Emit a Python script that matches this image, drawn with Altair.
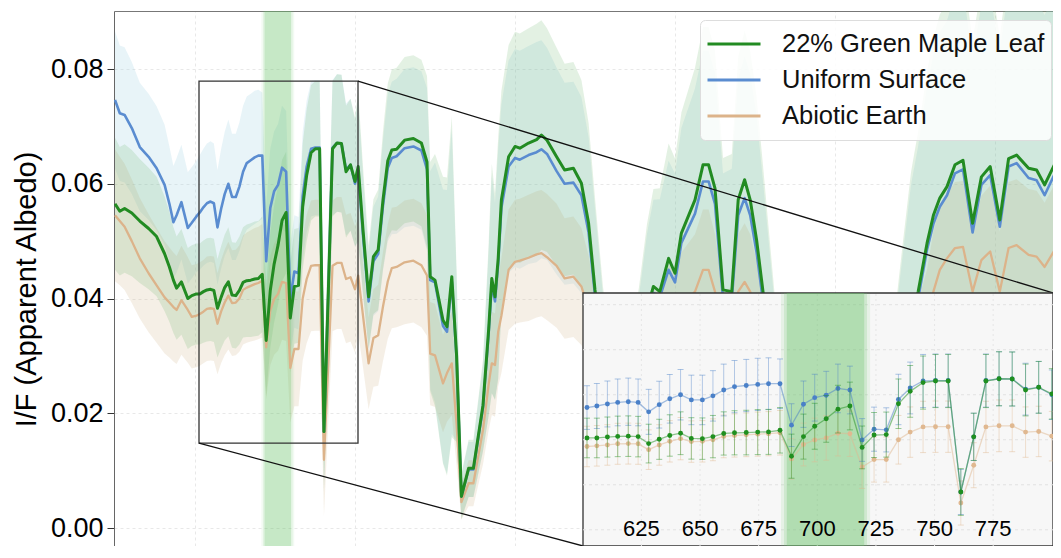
import altair as alt
import pandas as pd

# ---------------- data ----------------
wavelength = [
    500, 506, 512, 521, 531, 542, 552, 562, 568, 573, 577, 583, 591, 596,
    601.8, 606.0, 610.5, 614.9, 619.4, 623.6, 628.1, 632.6, 637.1, 641.7, 646.3, 651.0, 655.5, 660.1,
    664.7, 669.7, 674.6, 679.2, 684.1, 689.0, 694.1, 698.9, 703.8, 708.8, 713.9, 719.1, 724.2, 729.4,
    734.6, 739.6, 745.1, 750.4, 755.8, 761.2, 766.7, 771.9, 777.5, 783.1, 788.8, 794.4, 800.0,
    804, 810, 817, 823, 829, 835, 841, 846, 852, 862,
    873, 883, 890, 894, 900, 910, 915, 921, 927, 933,
    942, 948, 960, 967, 971, 975, 979, 983, 992, 1000,
    1006, 1017, 1027, 1033, 1040, 1052, 1062, 1073, 1083, 1092,
    1100, 1110, 1125, 1140, 1155, 1165, 1173, 1181, 1192, 1200,
    1208, 1225, 1235, 1242, 1250, 1260, 1271, 1279, 1287, 1294,
    1302, 1310, 1325, 1350, 1380, 1410, 1440, 1465, 1485, 1495,
    1504, 1515, 1523, 1531, 1540, 1550, 1560, 1572, 1583, 1594,
    1606, 1617, 1627, 1642, 1652, 1662, 1676, 1682,
]

green_maple = [
    0.0565, 0.0552, 0.0557, 0.0549, 0.0535, 0.0522, 0.0508, 0.0478, 0.0455, 0.0432, 0.0418, 0.0429, 0.0400, 0.0405,
    0.0408, 0.0408, 0.0412, 0.0415, 0.0416, 0.0414, 0.0383, 0.0402, 0.0419, 0.0429, 0.0406, 0.0405, 0.0414, 0.0428,
    0.0431, 0.0432, 0.0434, 0.0435, 0.0442, 0.0327, 0.0414, 0.0460, 0.0493, 0.0536, 0.0550, 0.0366, 0.0421, 0.0423,
    0.0560, 0.0615, 0.0654, 0.0661, 0.0661, 0.0168, 0.0413, 0.0661, 0.0671, 0.0670, 0.0621, 0.0633, 0.0604,
    0.0630, 0.0520, 0.0403, 0.0473, 0.0485, 0.0572, 0.0640, 0.0659, 0.0660, 0.0676,
    0.0679, 0.0671, 0.0638, 0.0438, 0.0432, 0.0362, 0.0351, 0.0438, 0.0300, 0.0055,
    0.0104, 0.0104, 0.0214, 0.0345, 0.0435, 0.0403, 0.0470, 0.0572, 0.0647, 0.0665,
    0.0662, 0.0671, 0.0677, 0.0685, 0.0676, 0.0647, 0.0624, 0.0627, 0.0601, 0.0531,
    0.0415, 0.0300, 0.0180, 0.0200, 0.0300, 0.0380, 0.0421, 0.0412, 0.0470, 0.0444,
    0.0514, 0.0572, 0.0633, 0.0633, 0.0592, 0.0415, 0.0412, 0.0572, 0.0607, 0.0572,
    0.0502, 0.0412, 0.0250, 0.0080, 0.0020, 0.0010, 0.0040, 0.0150, 0.0300, 0.0370,
    0.0412, 0.0496, 0.0545, 0.0575, 0.0595, 0.0633, 0.0641, 0.0531, 0.0612, 0.0630,
    0.0537, 0.0644, 0.0650, 0.0627, 0.0624, 0.0598, 0.0638, 0.0630,
]

uniform_surface = [
    0.0746, 0.0723, 0.0720, 0.0697, 0.0664, 0.0647, 0.0627, 0.0598, 0.0565, 0.0533, 0.0545, 0.0568, 0.0523, 0.0532,
    0.0543, 0.0550, 0.0559, 0.0566, 0.0569, 0.0566, 0.0524, 0.0556, 0.0582, 0.0600, 0.0577, 0.0577, 0.0595, 0.0621,
    0.0636, 0.0641, 0.0646, 0.0649, 0.0649, 0.0465, 0.0558, 0.0587, 0.0598, 0.0628, 0.0621, 0.0399, 0.0447, 0.0444,
    0.0579, 0.0630, 0.0661, 0.0663, 0.0663, 0.0168, 0.0413, 0.0663, 0.0671, 0.0670, 0.0625, 0.0633, 0.0600,
    0.0622, 0.0510, 0.0395, 0.0465, 0.0478, 0.0562, 0.0628, 0.0645, 0.0648, 0.0662,
    0.0665, 0.0658, 0.0625, 0.0432, 0.0428, 0.0352, 0.0342, 0.0430, 0.0295, 0.0055,
    0.0102, 0.0102, 0.0210, 0.0338, 0.0425, 0.0395, 0.0460, 0.0558, 0.0630, 0.0645,
    0.0642, 0.0650, 0.0655, 0.0660, 0.0652, 0.0622, 0.0600, 0.0602, 0.0580, 0.0515,
    0.0405, 0.0290, 0.0175, 0.0195, 0.0290, 0.0370, 0.0410, 0.0402, 0.0450, 0.0428,
    0.0497, 0.0548, 0.0604, 0.0604, 0.0565, 0.0400, 0.0398, 0.0545, 0.0575, 0.0545,
    0.0480, 0.0395, 0.0240, 0.0078, 0.0020, 0.0010, 0.0040, 0.0145, 0.0290, 0.0360,
    0.0400, 0.0485, 0.0530, 0.0560, 0.0580, 0.0618, 0.0625, 0.0515, 0.0598, 0.0615,
    0.0525, 0.0630, 0.0636, 0.0610, 0.0606, 0.0580, 0.0621, 0.0615,
]

abiotic_earth = [
    0.0545, 0.0535, 0.0525, 0.0500, 0.0470, 0.0444, 0.0423, 0.0402, 0.0393, 0.0385, 0.0380, 0.0397, 0.0380, 0.0368,
    0.0370, 0.0373, 0.0377, 0.0382, 0.0383, 0.0382, 0.0356, 0.0377, 0.0393, 0.0405, 0.0392, 0.0393, 0.0400, 0.0415,
    0.0419, 0.0422, 0.0425, 0.0427, 0.0431, 0.0315, 0.0379, 0.0399, 0.0408, 0.0429, 0.0427, 0.0279, 0.0312, 0.0312,
    0.0400, 0.0434, 0.0457, 0.0458, 0.0458, 0.0119, 0.0287, 0.0457, 0.0462, 0.0462, 0.0434, 0.0437, 0.0416,
    0.0440, 0.0370, 0.0287, 0.0331, 0.0336, 0.0386, 0.0430, 0.0453, 0.0455, 0.0463,
    0.0466, 0.0458, 0.0440, 0.0304, 0.0301, 0.0252, 0.0270, 0.0287, 0.0180, 0.0045,
    0.0078, 0.0078, 0.0171, 0.0250, 0.0287, 0.0284, 0.0342, 0.0370, 0.0450, 0.0464,
    0.0466, 0.0471, 0.0477, 0.0479, 0.0472, 0.0457, 0.0435, 0.0438, 0.0421, 0.0380,
    0.0320, 0.0230, 0.0140, 0.0160, 0.0240, 0.0300, 0.0330, 0.0325, 0.0370, 0.0355,
    0.0385, 0.0412, 0.0450, 0.0450, 0.0412, 0.0320, 0.0330, 0.0412, 0.0429, 0.0412,
    0.0370, 0.0310, 0.0190, 0.0060, 0.0015, 0.0008, 0.0030, 0.0110, 0.0220, 0.0280,
    0.0300, 0.0350, 0.0412, 0.0450, 0.0470, 0.0488, 0.0490, 0.0412, 0.0467, 0.0482,
    0.0412, 0.0488, 0.0493, 0.0476, 0.0473, 0.0455, 0.0488, 0.0482,
]

green_maple_err = [
    0.0115, 0.0112, 0.0112, 0.0110, 0.0108, 0.0106, 0.0104, 0.0100, 0.0096, 0.0092, 0.0090, 0.0092, 0.0088, 0.0088,
    0.0088, 0.0088, 0.0089, 0.0090, 0.0090, 0.0090, 0.0086, 0.0089, 0.0092, 0.0095, 0.0092, 0.0092, 0.0094, 0.0096,
    0.0098, 0.0099, 0.0100, 0.0100, 0.0101, 0.0098, 0.0100, 0.0102, 0.0104, 0.0106, 0.0106, 0.0095, 0.0100, 0.0100,
    0.0110, 0.0115, 0.0118, 0.0118, 0.0118, 0.0104, 0.0105, 0.0118, 0.0120, 0.0120, 0.0115, 0.0115, 0.0112,
    0.0130, 0.0110, 0.0090, 0.0100, 0.0105, 0.0120, 0.0135, 0.0140, 0.0142, 0.0145,
    0.0145, 0.0145, 0.0150, 0.0200, 0.0220, 0.0250, 0.0260, 0.0280, 0.0150, 0.0040,
    0.0050, 0.0050, 0.0080, 0.0150, 0.0200, 0.0180, 0.0210, 0.0190, 0.0195, 0.0200,
    0.0200, 0.0200, 0.0202, 0.0200, 0.0195, 0.0190, 0.0185, 0.0185, 0.0180, 0.0175,
    0.0160, 0.0120, 0.0080, 0.0090, 0.0120, 0.0150, 0.0170, 0.0180, 0.0200, 0.0200,
    0.0210, 0.0230, 0.0240, 0.0240, 0.0240, 0.0230, 0.0240, 0.0250, 0.0260, 0.0260,
    0.0250, 0.0220, 0.0150, 0.0050, 0.0015, 0.0010, 0.0030, 0.0100, 0.0200, 0.0250,
    0.0280, 0.0300, 0.0310, 0.0320, 0.0320, 0.0330, 0.0330, 0.0320, 0.0330, 0.0330,
    0.0320, 0.0330, 0.0330, 0.0330, 0.0330, 0.0330, 0.0330, 0.0330,
]

uniform_surface_err = [
    0.0120, 0.0118, 0.0118, 0.0115, 0.0112, 0.0110, 0.0108, 0.0105, 0.0100, 0.0098, 0.0100, 0.0100, 0.0097, 0.0097,
    0.0097, 0.0100, 0.0102, 0.0104, 0.0105, 0.0104, 0.0100, 0.0104, 0.0108, 0.0112, 0.0110, 0.0110, 0.0112, 0.0115,
    0.0116, 0.0116, 0.0116, 0.0115, 0.0110, 0.0095, 0.0103, 0.0104, 0.0106, 0.0108, 0.0106, 0.0095, 0.0098, 0.0098,
    0.0112, 0.0115, 0.0118, 0.0118, 0.0118, 0.0100, 0.0105, 0.0118, 0.0120, 0.0120, 0.0115, 0.0115, 0.0110,
    0.0125, 0.0105, 0.0086, 0.0095, 0.0100, 0.0114, 0.0128, 0.0133, 0.0135, 0.0138,
    0.0138, 0.0138, 0.0142, 0.0190, 0.0209, 0.0238, 0.0247, 0.0266, 0.0143, 0.0038,
    0.0048, 0.0048, 0.0076, 0.0143, 0.0190, 0.0171, 0.0200, 0.0180, 0.0185, 0.0190,
    0.0190, 0.0190, 0.0192, 0.0190, 0.0185, 0.0180, 0.0176, 0.0176, 0.0171, 0.0166,
    0.0152, 0.0114, 0.0076, 0.0086, 0.0114, 0.0143, 0.0162, 0.0171, 0.0190, 0.0190,
    0.0200, 0.0218, 0.0228, 0.0228, 0.0228, 0.0218, 0.0228, 0.0238, 0.0247, 0.0247,
    0.0238, 0.0209, 0.0143, 0.0048, 0.0014, 0.0010, 0.0029, 0.0095, 0.0190, 0.0238,
    0.0266, 0.0285, 0.0295, 0.0304, 0.0304, 0.0314, 0.0314, 0.0304, 0.0314, 0.0314,
    0.0304, 0.0314, 0.0314, 0.0314, 0.0314, 0.0314, 0.0314, 0.0314,
]

abiotic_earth_err = [
    0.0115, 0.0112, 0.0110, 0.0108, 0.0105, 0.0103, 0.0100, 0.0098, 0.0096, 0.0095, 0.0094, 0.0095, 0.0092, 0.0090,
    0.0090, 0.0090, 0.0090, 0.0091, 0.0091, 0.0091, 0.0088, 0.0090, 0.0092, 0.0094, 0.0092, 0.0092, 0.0093, 0.0095,
    0.0096, 0.0097, 0.0098, 0.0098, 0.0099, 0.0090, 0.0095, 0.0097, 0.0099, 0.0101, 0.0101, 0.0095, 0.0100, 0.0100,
    0.0108, 0.0112, 0.0114, 0.0114, 0.0114, 0.0098, 0.0100, 0.0114, 0.0115, 0.0115, 0.0112, 0.0112, 0.0110,
    0.0100, 0.0090, 0.0080, 0.0085, 0.0088, 0.0095, 0.0100, 0.0105, 0.0105, 0.0108,
    0.0108, 0.0108, 0.0105, 0.0090, 0.0090, 0.0085, 0.0085, 0.0090, 0.0070, 0.0030,
    0.0040, 0.0040, 0.0060, 0.0080, 0.0090, 0.0090, 0.0095, 0.0100, 0.0105, 0.0108,
    0.0108, 0.0110, 0.0110, 0.0110, 0.0110, 0.0108, 0.0105, 0.0105, 0.0102, 0.0095,
    0.0085, 0.0070, 0.0050, 0.0055, 0.0070, 0.0080, 0.0085, 0.0085, 0.0090, 0.0090,
    0.0095, 0.0100, 0.0105, 0.0105, 0.0100, 0.0090, 0.0090, 0.0100, 0.0102, 0.0100,
    0.0095, 0.0085, 0.0060, 0.0025, 0.0010, 0.0008, 0.0020, 0.0050, 0.0080, 0.0090,
    0.0095, 0.0100, 0.0105, 0.0110, 0.0112, 0.0115, 0.0115, 0.0105, 0.0112, 0.0115,
    0.0105, 0.0115, 0.0115, 0.0115, 0.0115, 0.0112, 0.0115, 0.0115,
]

series_names = ["22% Green Maple Leaf", "Uniform Surface", "Abiotic Earth"]
y_ticks = [0.00, 0.02, 0.04, 0.06, 0.08]
x_grid = [600, 800, 1000, 1200, 1400, 1600]
inset_ticks = [625, 650, 675, 700, 725, 750, 775]
inset_grid_y = [0.00, 0.02, 0.04, 0.06, 0.08, 0.10]
highlight_band = [687, 720]           # nm, green shaded wavelength band
zoom_box_x = [605, 803.75]            # nm
zoom_box_y = [0.0148, 0.0779]         # I/F

for arr in (green_maple, uniform_surface, abiotic_earth,
            green_maple_err, uniform_surface_err, abiotic_earth_err):
    assert len(arr) == len(wavelength), len(arr)

# ---------------- layout / styles ----------------
FONT = "Liberation Sans"
W, H = 939, 535
X_DOM = [498.75, 1672.5]
Y_DOM = [-0.003137, 0.09011]
INSET_MAIN_X = [1085, 1672.5]          # where the inset sits, in main-chart units
INSET_MAIN_Y = [-0.003137, 0.04096]
INSET_X_DOM = [600.1, 800.5]
INSET_Y_DOM = [-0.0072, 0.1052]

LINE_COLORS = ["#228b22", "#5a8cd0", "#dcb38a"]
BAND_FILLS = {"22% Green Maple Leaf": ("#5aad5a", 0.17),
              "Uniform Surface": ("#add8e6", 0.28),
              "Abiotic Earth": ("#d2b48c", 0.22)}
LINE_WIDTH = {"22% Green Maple Leaf": 3.0, "Uniform Surface": 2.6, "Abiotic Earth": 2.3}
INSET_COLORS = {"22% Green Maple Leaf": "#1f8f1f",
                "Uniform Surface": "#4a80c8",
                "Abiotic Earth": "#e0b890"}


def px_x(v):
    return (v - X_DOM[0]) / (X_DOM[1] - X_DOM[0]) * W


def px_y(v):
    return (Y_DOM[1] - v) / (Y_DOM[1] - Y_DOM[0]) * H


rows = []
for name, vals, errs in zip(series_names,
                            [green_maple, uniform_surface, abiotic_earth],
                            [green_maple_err, uniform_surface_err, abiotic_earth_err]):
    for w, v, e in zip(wavelength, vals, errs):
        rows.append({"wl": w, "series": name, "value": v, "lo": v - e, "hi": v + e})
df = pd.DataFrame(rows)

# ---------------- main panel ----------------
xs = alt.Scale(domain=X_DOM, nice=False, zero=False)
ys = alt.Scale(domain=Y_DOM, nice=False, zero=False)
x_axis = alt.Axis(orient="top", values=x_grid, labels=False, ticks=False, title=None,
                  domain=True, domainColor="#777777", domainWidth=1,
                  grid=True, gridColor="#e8e8e8", gridDash=[3, 3], gridWidth=1)
y_axis = alt.Axis(values=y_ticks, format=".2f", labelFont=FONT, labelFontSize=27,
                  labelColor="#000000", labelPadding=4, tickSize=7, tickColor="#333333",
                  tickWidth=1, domain=True, domainColor="#666666", domainWidth=1,
                  grid=True, gridColor="#e8e8e8", gridDash=[3, 3], gridWidth=1,
                  title="I/F (Apparent Albedo)", titleFont=FONT, titleFontSize=29,
                  titleFontWeight="normal", titleColor="#000000", titlePadding=9, titleY=278)

X = lambda f: alt.X(f, type="quantitative", scale=xs, axis=x_axis)
Y = lambda f: alt.Y(f, type="quantitative", scale=ys, axis=y_axis)

base = alt.Chart(df)
main_layers = []

for name in ["Uniform Surface", "Abiotic Earth", "22% Green Maple Leaf"]:
    fill, op = BAND_FILLS[name]
    main_layers.append(
        base.transform_filter(alt.datum.series == name)
        .mark_area(clip=True, fill=fill, opacity=op)
        .encode(x=X("wl"), y=Y("lo"), y2="hi")
    )

hl_df = pd.DataFrame({"a": [highlight_band[0]], "b": [highlight_band[1]]})
for pad, op in [(4.0, 0.08), (2.0, 0.12), (0.0, 0.24)]:
    main_layers.append(
        alt.Chart(hl_df)
        .transform_calculate(a2=f"datum.a - {pad}", b2=f"datum.b + {pad}")
        .mark_rect(color="#6cc36c", opacity=op, clip=True)
        .encode(x=X("a2"), x2="b2", y=alt.value(0), y2=alt.value(H))
    )

legend = alt.Legend(title=None, orient="none", legendX=586, legendY=9, direction="vertical",
                    symbolType="stroke", symbolSize=2809, symbolStrokeWidth=3,
                    labelFont=FONT, labelFontSize=25.5, labelColor="#111111", labelLimit=500,
                    labelOffset=20, padding=6, clipHeight=36, rowPadding=0,
                    fillColor="rgba(255,255,255,0.85)", strokeColor="#dddddd", cornerRadius=5)
color = alt.Color("series:N", scale=alt.Scale(domain=series_names, range=LINE_COLORS), legend=legend)

for name in ["Abiotic Earth", "Uniform Surface", "22% Green Maple Leaf"]:
    main_layers.append(
        base.transform_filter(alt.datum.series == name)
        .mark_line(clip=True, strokeWidth=LINE_WIDTH[name], strokeJoin="round")
        .encode(x=X("wl"), y=Y("value"), color=color)
    )

box_df = pd.DataFrame({"x0": [zoom_box_x[0]], "x1": [zoom_box_x[1]],
                       "y0": [zoom_box_y[0]], "y1": [zoom_box_y[1]]})
main_layers.append(
    alt.Chart(box_df).mark_rect(fillOpacity=0, stroke="#333333", strokeWidth=1.3)
    .encode(x=X("x0"), x2="x1", y=Y("y0"), y2="y1")
)
conn_df = pd.DataFrame({"x0": [zoom_box_x[0], zoom_box_x[1]], "y0": [zoom_box_y[0], zoom_box_y[1]],
                        "x1": [INSET_MAIN_X[0], INSET_MAIN_X[1]], "y1": [INSET_MAIN_Y[0], INSET_MAIN_Y[1]]})
main_layers.append(
    alt.Chart(conn_df).mark_rule(color="#111111", strokeWidth=1.3)
    .encode(x=X("x0"), x2="x1", y=Y("y0"), y2="y1")
)

main = alt.layer(*main_layers)

# ---------------- inset panel ----------------
ixs = alt.Scale(domain=INSET_X_DOM, range=[px_x(INSET_MAIN_X[0]), px_x(INSET_MAIN_X[1])],
                nice=False, zero=False)
iys = alt.Scale(domain=INSET_Y_DOM, range=[px_y(INSET_MAIN_Y[0]), px_y(INSET_MAIN_Y[1])],
                nice=False, zero=False)
IX = lambda f: alt.X(f, type="quantitative", scale=ixs, axis=None)
IY = lambda f: alt.Y(f, type="quantitative", scale=iys, axis=None)

inset_layers = []
bg_df = pd.DataFrame({"x0": [INSET_X_DOM[0]], "x1": [INSET_X_DOM[1]],
                      "y0": [INSET_Y_DOM[0]], "y1": [INSET_Y_DOM[1]]})
inset_layers.append(
    alt.Chart(bg_df).mark_rect(fill="#f7f7f7", stroke="#333333", strokeWidth=1.3)
    .encode(x=IX("x0"), x2="x1", y=IY("y0"), y2="y1")
)
hgrid = pd.DataFrame({"g": inset_grid_y, "x0": INSET_X_DOM[0], "x1": INSET_X_DOM[1]})
inset_layers.append(
    alt.Chart(hgrid).mark_rule(color="#e2e2e2", strokeDash=[3, 3], strokeWidth=1)
    .encode(y=IY("g"), x=IX("x0"), x2="x1")
)
vgrid = pd.DataFrame({"t": inset_ticks, "y0": INSET_Y_DOM[0], "y1": INSET_Y_DOM[1]})
inset_layers.append(
    alt.Chart(vgrid).mark_rule(color="#e6e6e6", strokeDash=[2, 3], strokeWidth=1)
    .encode(x=IX("t"), y=IY("y0"), y2="y1")
)
ihl = pd.DataFrame({"a": [highlight_band[0]], "b": [highlight_band[1]],
                    "y0": [INSET_Y_DOM[0]], "y1": [INSET_Y_DOM[1]]})
for pad, op in [(2.5, 0.12), (1.2, 0.18), (0.0, 0.30)]:
    inset_layers.append(
        alt.Chart(ihl)
        .transform_calculate(a2=f"datum.a - {pad}", b2=f"datum.b + {pad}")
        .mark_rect(color="#6cc36c", opacity=op)
        .encode(x=IX("a2"), x2="b2", y=IY("y0"), y2="y1")
    )

ibase = base.transform_filter((alt.datum.wl >= 600) & (alt.datum.wl <= 801))
for name in ["Abiotic Earth", "Uniform Surface", "22% Green Maple Leaf"]:
    c = INSET_COLORS[name]
    sb = ibase.transform_filter(alt.datum.series == name)
    inset_layers.append(sb.mark_rule(color=c, opacity=0.4, strokeWidth=1)
                        .encode(x=IX("wl"), y=IY("lo"), y2="hi"))
    inset_layers.append(sb.mark_tick(color=c, opacity=0.45, orient="horizontal", size=6, thickness=1)
                        .encode(x=IX("wl"), y=IY("lo")))
    inset_layers.append(sb.mark_tick(color=c, opacity=0.45, orient="horizontal", size=6, thickness=1)
                        .encode(x=IX("wl"), y=IY("hi")))
    inset_layers.append(sb.mark_line(color=c, opacity=0.5, strokeWidth=1.3)
                        .encode(x=IX("wl"), y=IY("value")))
    inset_layers.append(sb.mark_circle(color=c, opacity=1, size=24)
                        .encode(x=IX("wl"), y=IY("value")))

tick_df = pd.DataFrame({"t": inset_ticks, "label": [str(t) for t in inset_ticks]})
inset_layers.append(
    alt.Chart(tick_df).mark_text(font=FONT, fontSize=22, color="#000000", baseline="middle")
    .encode(x=IX("t"), y=alt.value(518), text="label:N")
)

inset = alt.layer(*inset_layers)

chart = (
    alt.layer(main, inset)
    .resolve_scale(x="independent", y="independent", color="independent")
    .properties(width=W, height=H, padding={"left": 106, "top": 3, "right": 0, "bottom": 0},
                autosize=alt.AutoSizeParams(type="none"), background="white")
    .configure_view(stroke="transparent")
)

chart.save("out.html", embed_options={"renderer": "svg", "actions": False})
